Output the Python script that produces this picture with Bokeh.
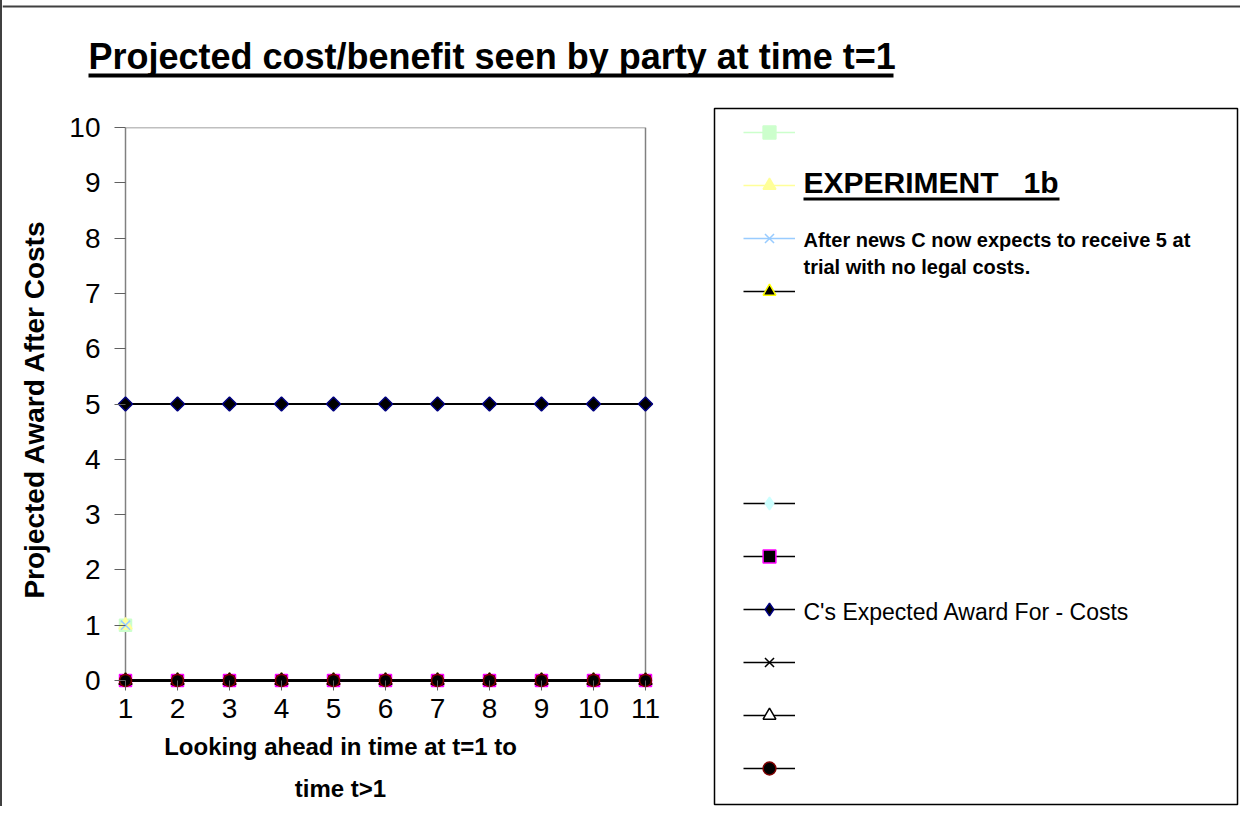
import math
import numpy as np
from bokeh.plotting import figure
from bokeh.layouts import column, row
from bokeh.models import (Range1d, FixedTicker, Legend, LegendItem, Label,
                          BoxAnnotation, ColumnDataSource)
from bokeh.embed import file_html
from bokeh.resources import INLINE

nan = np.nan

# ---------------- data ----------------
t = [1, 2, 3, 4, 5, 6, 7, 8, 9, 10, 11]
s_green_square = [1, nan, nan, nan, nan, nan, nan, nan, nan, nan, nan]
s_yellow_triangle = [1, nan, nan, nan, nan, nan, nan, nan, nan, nan, nan]
s_blue_x = [1, nan, nan, nan, nan, nan, nan, nan, nan, nan, nan]
s_black_triangle = [0, 0, 0, 0, 0, 0, 0, 0, 0, 0, 0]
s_cyan_diamond = [0, 0, 0, 0, 0, 0, 0, 0, 0, 0, 0]
s_magenta_square = [0, 0, 0, 0, 0, 0, 0, 0, 0, 0, 0]
s_expected_award = [5, 5, 5, 5, 5, 5, 5, 5, 5, 5, 5]
s_black_x = [0, 0, 0, 0, 0, 0, 0, 0, 0, 0, 0]
s_open_triangle = [0, 0, 0, 0, 0, 0, 0, 0, 0, 0, 0]
s_black_circle = [0, 0, 0, 0, 0, 0, 0, 0, 0, 0, 0]

y_ticks = [0, 1, 2, 3, 4, 5, 6, 7, 8, 9, 10]

chart_title = "Projected cost/benefit seen by party at time t=1"
x_title = ["Looking ahead in time at t=1 to", "time t>1"]
y_title = "Projected Award After Costs"
legend_heading = "EXPERIMENT\u00a0\u00a0\u00a01b"
legend_note = ["After news C now expects to receive 5 at", "trial with no legal costs."]
legend_award = "C's Expected Award For - Costs"

FONT = "Liberation Sans"
BASE = 0.37   # baseline correction (fraction of font size) for Label text


def blank_fig(w, h, **kw):
    f = figure(width=w, height=h, x_range=Range1d(0, 1), y_range=Range1d(0, 1),
               x_axis_location=None, y_axis_location=None,
               output_backend="svg", toolbar_location=None, **kw)
    f.title = None
    f.grid.visible = False
    f.outline_line_alpha = 0
    f.background_fill_color = "white"
    f.border_fill_color = "white"
    return f


def add_label(f, text, x, baseline_from_bottom, size, bold=False, align="left"):
    f.add_layout(Label(x=x, y=baseline_from_bottom + BASE * size,
                       x_units="screen", y_units="screen", text=text,
                       text_font=FONT, text_font_size=f"{size}px",
                       text_font_style="bold" if bold else "normal",
                       text_align=align, text_baseline="alphabetic",
                       text_color="black"))


def add_bar(f, x0, x1, y0, y1, color="black"):
    f.add_layout(BoxAnnotation(left=x0, right=x1, bottom=y0, top=y1,
                               left_units="screen", right_units="screen",
                               top_units="screen", bottom_units="screen",
                               fill_color=color, fill_alpha=1, line_alpha=0))


# ---------------- title strip ----------------
title_fig = blank_fig(1238, 100, min_border_left=0, min_border_right=0,
                      min_border_top=0, min_border_bottom=0)
add_bar(title_fig, 0, 1238, 93, 95, "#404040")          # outer chart border (top)
add_label(title_fig, chart_title, 86, 31, 36, bold=True)
add_bar(title_fig, 86, 891, 23, 27)                      # underline

# ---------------- main chart ----------------
XPX = 52.0   # px per x unit
YPX = 55.3   # px per y unit
PAD = 10     # px of frame padding so edge markers are not clipped

p = figure(width=698, height=631,
           x_range=Range1d(1 - PAD / XPX, 11 + PAD / XPX),
           y_range=Range1d(0 - PAD / YPX, 10),
           output_backend="svg", toolbar_location=None,
           min_border_left=113, min_border_right=45,
           min_border_top=27, min_border_bottom=41)
p.title = None
p.xgrid.visible = False
p.ygrid.visible = False
p.outline_line_alpha = 0
p.background_fill_color = "white"
p.border_fill_color = "white"

p.xaxis.ticker = FixedTicker(ticks=t)
p.yaxis.ticker = FixedTicker(ticks=y_ticks)
for ax in (p.xaxis, p.yaxis):
    ax.axis_line_alpha = 0
    ax.minor_tick_line_alpha = 0
    ax.major_tick_line_color = "#606060"
    ax.major_tick_line_width = 1
    ax.major_label_text_font = FONT
    ax.major_label_text_font_size = "28px"
    ax.major_label_text_color = "black"
p.xaxis.major_tick_in = 10
p.xaxis.major_tick_out = 0
p.xaxis.major_label_standoff = 8
p.yaxis.major_tick_in = 10
p.yaxis.major_tick_out = 1
p.yaxis.major_label_standoff = 14
p.yaxis.axis_label = y_title
p.yaxis.axis_label_text_font = FONT
p.yaxis.axis_label_text_font_size = "28px"
p.yaxis.axis_label_text_font_style = "bold"
p.yaxis.axis_label_text_color = "black"
p.yaxis.axis_label_standoff = 16

# plot area border (gray)
p.add_layout(BoxAnnotation(left=1, right=11, bottom=0, top=10,
                           fill_alpha=0, line_color="#808080", line_alpha=1,
                           line_width=1.5, level="underlay"))

src = ColumnDataSource(dict(
    t=t, s1=s_green_square, s2=s_yellow_triangle, s3=s_blue_x,
    s4=s_black_triangle, s5=s_cyan_diamond, s6=s_magenta_square,
    s7=s_expected_award, s8=s_black_x, s9=s_open_triangle, s10=s_black_circle))

# column, line colour, line width, marker, size, angle, fill, edge, legend marker
styles = [
    ("s1", "#CCFFCC", 1.5, "square", 12, 0, "#CCFFCC", "#CCFFCC", "square"),
    ("s2", "#FFFF99", 1.5, "triangle", 13, 0, "#FFFF99", "#FFFF99", "triangle"),
    ("s3", "#99CCFF", 2, "x", 13, 0, "#99CCFF", "#99CCFF", "x"),
    ("s4", "black", 2, "triangle", 13, 0, "black", "#FFFF00", "triangle"),
    ("s5", "black", 2, "square", 7, math.pi / 4, "#CCFFFF", "#CCFFFF", "diamond"),
    ("s6", "black", 2, "square", 12, 0, "black", "#FF00FF", "square"),
    ("s7", "black", 2, "square", 10, math.pi / 4, "black", "#000080", "diamond"),
    ("s8", "black", 2, "x", 12, 0, None, "black", "x"),
    ("s9", "black", 2, "triangle", 13, 0, "white", "black", "triangle"),
    ("s10", "black", 2, "circle", 12, 0, "black", "#800000", "circle"),
]

for col, lc, lw, mk, sz, ang, fc, ec, lmk in styles:
    p.line("t", col, source=src, line_color=lc, line_width=lw)
    p.scatter("t", col, source=src, marker=mk, size=sz, angle=ang,
              fill_color=fc, line_color=ec, line_width=1.5)

# ---------------- x-axis title strip (frame aligned with the chart's) -------
xt_fig = blank_fig(698, 75, min_border_left=0, min_border_right=0,
                   min_border_top=0, min_border_bottom=0)
add_label(xt_fig, x_title[0], 225, 51, 24, bold=True, align="center")
add_label(xt_fig, x_title[1], 225, 9, 24, bold=True, align="center")

# ---------------- legend panel ----------------
# same series, viewed off-range, so only the legend swatches show
lg = figure(width=540, height=706, x_range=Range1d(-100, -99),
            y_range=Range1d(-100, -99), x_axis_location=None,
            y_axis_location=None, output_backend="svg", toolbar_location=None,
            min_border_left=14, min_border_right=3,
            min_border_top=8, min_border_bottom=2)
lg.title = None
lg.grid.visible = False
lg.background_fill_color = "white"
lg.border_fill_color = "white"
lg.outline_line_color = "black"
lg.outline_line_width = 1.5

swatch = {}
for col, lc, lw, mk, sz, ang, fc, ec, lmk in styles:
    rl = lg.line("t", col, source=src, line_color=lc, line_width=1.5)
    rs = lg.scatter("t", col, source=src, marker=lmk, fill_color=fc,
                    line_color=ec, line_width=1.5)
    swatch[col] = [rl, rs]
gap = lg.line("t", "s7", source=src, line_alpha=0)

order = ["s1", "s2", "s3", "s4", None, None, None,
         "s5", "s6", "s7", "s8", "s9", "s10"]
items = []
for k in order:
    items.append(LegendItem(label=" ", renderers=[gap] if k is None else swatch[k]))

legend = Legend(items=items, location=(29, 14), orientation="vertical",
                glyph_width=52, glyph_height=32, label_height=44, label_width=0,
                label_standoff=0, spacing=9, padding=0, margin=0,
                border_line_alpha=0, background_fill_alpha=0,
                label_text_font_size="1px")
lg.add_layout(legend)

add_label(lg, legend_heading, 89, 611, 30, bold=True)
add_bar(lg, 89, 345, 604, 607)
add_label(lg, legend_note[0], 89, 557, 20, bold=True)
add_label(lg, legend_note[1], 89, 530, 20, bold=True)
add_label(lg, legend_award, 89, 184, 23)

layout = column(title_fig, row(column(p, xt_fig), lg),
                styles={"border-left": "2px solid #404040"})

open("out.html", "w").write(file_html(layout, INLINE))
